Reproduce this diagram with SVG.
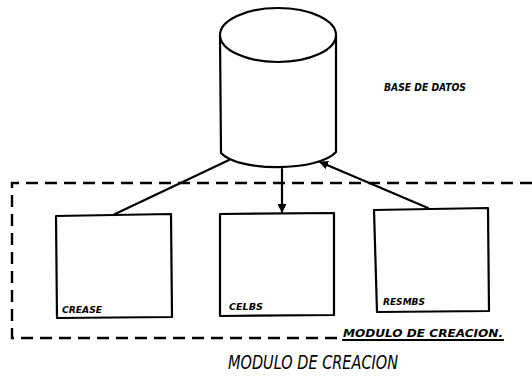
<svg xmlns="http://www.w3.org/2000/svg" width="532" height="382" viewBox="0 0 532 382">
<style>
.s{fill:none;stroke:#000;stroke-width:2.2;stroke-linecap:round;stroke-linejoin:round}
.d{fill:none;stroke:#000;stroke-width:2.4;stroke-dasharray:12 7}
.t{font-family:"DejaVu Sans",sans-serif;font-style:italic;font-weight:bold;fill:#000}
.n{font-weight:normal}
</style>
<defs>
<marker id="ah" viewBox="0 0 10 10" refX="9" refY="5" markerWidth="4" markerHeight="4" orient="auto-start-reverse">
<path d="M0,0 L10,5 L0,10 z" fill="#000"/>
</marker>
</defs>
<rect width="532" height="382" fill="#fff"/>
<g id="module">
<path class="d" d="M532,183 L12,183 L12,338 L340,338"/>
<text class="t" x="343" y="337" font-size="10" textLength="160" lengthAdjust="spacingAndGlyphs">MODULO DE CREACION.</text>
<path class="s" d="M343,340 L503,340" stroke-width="1.5"/>
<text class="t n" x="228" y="369" font-size="19" textLength="170" lengthAdjust="spacingAndGlyphs">MODULO DE CREACION</text>
</g>
<g id="db">
<ellipse class="s" cx="278" cy="35" rx="58" ry="27"/>
<path class="s" d="M220,36 L221,153 C238,172 318,172 336,152 L336,36"/>
<text class="t" x="384" y="91" font-size="10" textLength="82" lengthAdjust="spacingAndGlyphs">BASE DE DATOS</text>
</g>
<g id="connectors">
<path class="s" d="M229,160 L113,215"/>
<path class="s" d="M282,169 L282,212" marker-end="url(#ah)"/>
<path class="s" d="M428,208 L320,162" marker-end="url(#ah)"/>
</g>
<g id="box1">
<path class="s" d="M56,216 L171,214 L172,317 L57,318 Z"/>
<text class="t" x="62" y="313" font-size="9" textLength="40" lengthAdjust="spacingAndGlyphs">CREASE</text>
</g>
<g id="box2">
<path class="s" d="M220,214 L334,213 L334,315 L220,316 Z"/>
<text class="t" x="229" y="310" font-size="9" textLength="34" lengthAdjust="spacingAndGlyphs">CELBS</text>
</g>
<g id="box3">
<path class="s" d="M374,210 L488,208 L489,311 L377,312 Z"/>
<text class="t" x="383" y="305" font-size="9" textLength="42" lengthAdjust="spacingAndGlyphs">RESMBS</text>
</g>
</svg>
